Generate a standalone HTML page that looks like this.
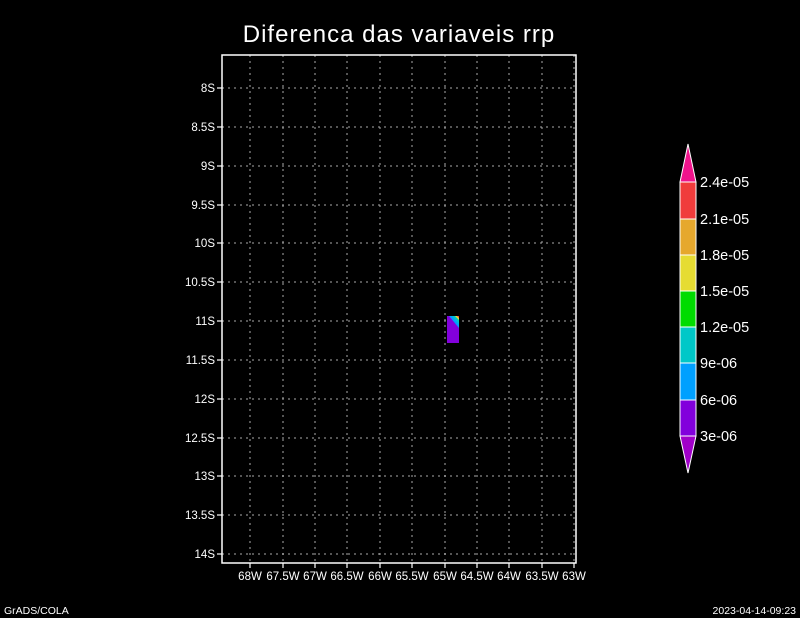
<!DOCTYPE html><html><head><style>html,body{margin:0;background:#000;overflow:hidden}svg{display:block}</style></head><body>
<svg width="800" height="618" xmlns="http://www.w3.org/2000/svg" font-family="Liberation Sans, sans-serif">
<rect width="800" height="618" fill="#000"/>
<text x="399" y="42" fill="#fff" font-size="24" text-anchor="middle" letter-spacing="1" font-weight="300">Diferenca das variaveis rrp</text>
<g stroke="#aaa" stroke-dasharray="2,4" stroke-width="1">
<line x1="250" y1="55" x2="250" y2="563"/><line x1="283" y1="55" x2="283" y2="563"/><line x1="315" y1="55" x2="315" y2="563"/><line x1="347" y1="55" x2="347" y2="563"/><line x1="380" y1="55" x2="380" y2="563"/><line x1="412" y1="55" x2="412" y2="563"/><line x1="445" y1="55" x2="445" y2="563"/><line x1="477" y1="55" x2="477" y2="563"/><line x1="509" y1="55" x2="509" y2="563"/><line x1="542" y1="55" x2="542" y2="563"/><line x1="574" y1="55" x2="574" y2="563"/>
<line x1="222" y1="88" x2="576" y2="88"/><line x1="222" y1="127" x2="576" y2="127"/><line x1="222" y1="166" x2="576" y2="166"/><line x1="222" y1="205" x2="576" y2="205"/><line x1="222" y1="243" x2="576" y2="243"/><line x1="222" y1="282" x2="576" y2="282"/><line x1="222" y1="321" x2="576" y2="321"/><line x1="222" y1="360" x2="576" y2="360"/><line x1="222" y1="399" x2="576" y2="399"/><line x1="222" y1="438" x2="576" y2="438"/><line x1="222" y1="476" x2="576" y2="476"/><line x1="222" y1="515" x2="576" y2="515"/><line x1="222" y1="554" x2="576" y2="554"/>
</g>
<rect x="447" y="316" width="12" height="27" fill="#8200dc"/>
<polygon points="449,316 459,316 459,328" fill="#00a0ff"/>
<polygon points="452,316 459,316 459,324" fill="#00c8c8"/>
<polygon points="455,316 459,316 459,320" fill="#e6dc32"/>
<polygon points="457,316 459,316 459,318" fill="#f03c3c"/>
<rect x="222" y="55" width="354" height="508" fill="none" stroke="#fff" stroke-width="1.5"/>
<g stroke="#fff" stroke-width="1.2">
<line x1="217" y1="88" x2="222" y2="88"/><line x1="217" y1="127" x2="222" y2="127"/><line x1="217" y1="166" x2="222" y2="166"/><line x1="217" y1="205" x2="222" y2="205"/><line x1="217" y1="243" x2="222" y2="243"/><line x1="217" y1="282" x2="222" y2="282"/><line x1="217" y1="321" x2="222" y2="321"/><line x1="217" y1="360" x2="222" y2="360"/><line x1="217" y1="399" x2="222" y2="399"/><line x1="217" y1="438" x2="222" y2="438"/><line x1="217" y1="476" x2="222" y2="476"/><line x1="217" y1="515" x2="222" y2="515"/><line x1="217" y1="554" x2="222" y2="554"/>
<line x1="250" y1="563" x2="250" y2="568"/><line x1="283" y1="563" x2="283" y2="568"/><line x1="315" y1="563" x2="315" y2="568"/><line x1="347" y1="563" x2="347" y2="568"/><line x1="380" y1="563" x2="380" y2="568"/><line x1="412" y1="563" x2="412" y2="568"/><line x1="445" y1="563" x2="445" y2="568"/><line x1="477" y1="563" x2="477" y2="568"/><line x1="509" y1="563" x2="509" y2="568"/><line x1="542" y1="563" x2="542" y2="568"/><line x1="574" y1="563" x2="574" y2="568"/>
</g>
<g fill="#fff" font-size="11.5" text-anchor="end">
<text x="215" y="92">8S</text><text x="215" y="131">8.5S</text><text x="215" y="170">9S</text><text x="215" y="209">9.5S</text><text x="215" y="247">10S</text><text x="215" y="286">10.5S</text><text x="215" y="325">11S</text><text x="215" y="364">11.5S</text><text x="215" y="403">12S</text><text x="215" y="442">12.5S</text><text x="215" y="480">13S</text><text x="215" y="519">13.5S</text><text x="215" y="558">14S</text>
</g>
<g fill="#fff" font-size="11.5" text-anchor="middle">
<text x="250" y="580">68W</text><text x="283" y="580">67.5W</text><text x="315" y="580">67W</text><text x="347" y="580">66.5W</text><text x="380" y="580">66W</text><text x="412" y="580">65.5W</text><text x="445" y="580">65W</text><text x="477" y="580">64.5W</text><text x="509" y="580">64W</text><text x="542" y="580">63.5W</text><text x="574" y="580">63W</text>
</g>
<g stroke="#fff" stroke-width="1">
<polygon points="688,144 696,182 680,182" fill="#f0148c"/>
<rect x="680" y="182" width="16" height="37" fill="#f03c3c"/>
<rect x="680" y="219" width="16" height="36" fill="#e6a82d"/>
<rect x="680" y="255" width="16" height="36" fill="#e6dc32"/>
<rect x="680" y="291" width="16" height="36" fill="#00dc00"/>
<rect x="680" y="327" width="16" height="36" fill="#00c8c8"/>
<rect x="680" y="363" width="16" height="37" fill="#00a0ff"/>
<rect x="680" y="400" width="16" height="36" fill="#8200dc"/>
<polygon points="680,436 696,436 688,473" fill="#a000c8"/>
</g>
<g fill="#fff" font-size="14.5">
<text x="700" y="187">2.4e-05</text><text x="700" y="224">2.1e-05</text><text x="700" y="260">1.8e-05</text><text x="700" y="296">1.5e-05</text><text x="700" y="332">1.2e-05</text><text x="700" y="368">9e-06</text><text x="700" y="405">6e-06</text><text x="700" y="441">3e-06</text>
</g>
<text x="4" y="614" fill="#fff" font-size="10.5">GrADS/COLA</text>
<text x="796" y="614" fill="#fff" font-size="10.5" text-anchor="end">2023-04-14-09:23</text>
</svg>
</body></html>
